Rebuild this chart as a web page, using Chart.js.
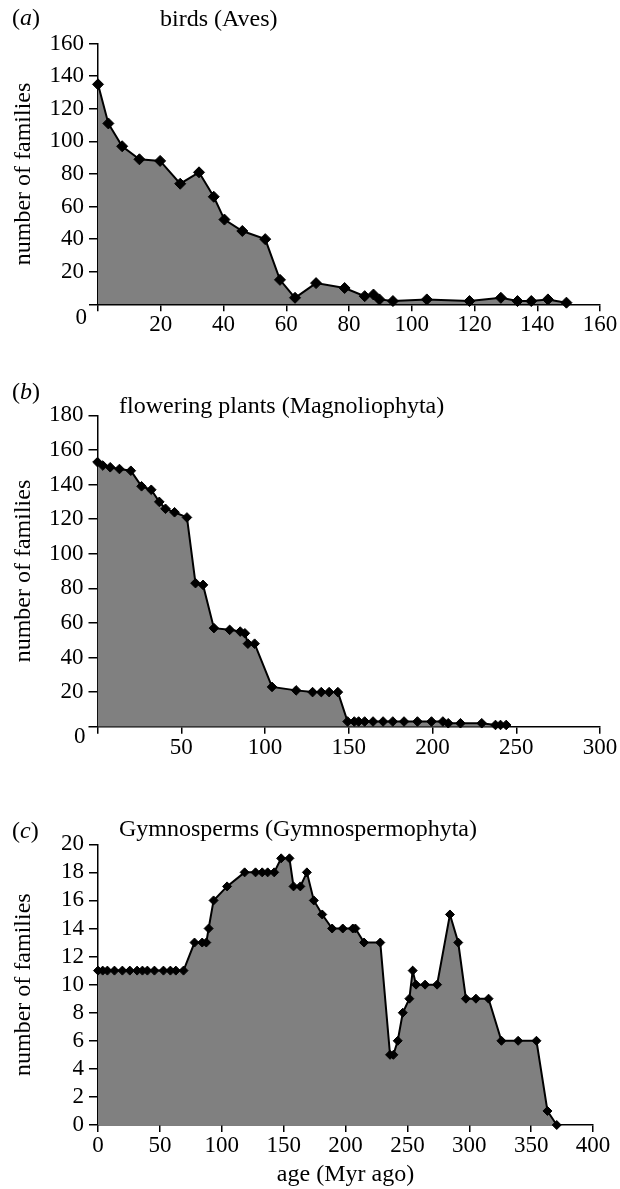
<!DOCTYPE html>
<html>
<head>
<meta charset="utf-8">
<script src="https://cdn.jsdelivr.net/npm/chart.js@4.4.1/dist/chart.umd.min.js"></script>
<style>
  html, body { margin: 0; padding: 0; background: #fff; }
  #page { position: relative; width: 620px; height: 1189px; overflow: hidden; background: #fff;
          font-family: 'Liberation Serif', 'Times New Roman', serif; color: #000; }
  .panel { position: absolute; left: 0; width: 620px; }
  .lbl { position: absolute; font-size: 24px; line-height: 26px; white-space: nowrap; }
</style>
</head>
<body>
<div id="page">
  <div class="panel" style="top:0px;height:345px;"><canvas id="ca"></canvas></div>
  <div class="panel" style="top:360px;height:410px;"><canvas id="cb"></canvas></div>
  <div class="panel" style="top:790px;height:399px;"><canvas id="cc"></canvas></div>

  <div class="lbl" style="left:12px;top:4px;">(<i>a</i>)</div>
  <div class="lbl" style="left:160px;top:5px;">birds (Aves)</div>
  <div class="lbl" style="left:12px;top:378px;">(<i>b</i>)</div>
  <div class="lbl" style="left:119px;top:392px;">flowering plants (Magnoliophyta)</div>
  <div class="lbl" style="left:12px;top:817px;">(<i>c</i>)</div>
  <div class="lbl" style="left:119px;top:815px;">Gymnosperms (Gymnospermophyta)</div>
</div>
<script>
// ---- data ----
const birdAges   = [0, 3.3, 7.7, 13.2, 19.8, 26.2, 32.2, 36.9, 40.3, 46, 53.3, 58, 62.8, 69.5, 78.6, 85, 87.8, 89.7, 94, 104.8, 118.4, 128.4, 133.7, 138.1, 143.4, 149.3];
const birdCounts = [135, 111, 97, 89, 88, 74, 81, 66, 52, 45, 40, 15, 4, 13, 10, 5, 6, 3, 2, 3, 2, 4, 2, 2, 3, 1];

const plantAges   = [0, 3.2, 7.6, 13.1, 19.9, 26.3, 32.1, 36.9, 40.6, 46, 53.4, 58.5, 63, 69.5, 78.9, 85.2, 88, 89.8, 93.8, 104.2, 118.6, 128.4, 133.6, 138.3, 143.5, 149.3, 153.3, 155.9, 159.5, 164.5, 170.5, 176.3, 183, 191, 199.4, 206.2, 209.4, 216.7, 229.4, 237.6, 240.6, 244];
const plantCounts = [153, 151, 150, 149, 148, 139, 137, 130, 126, 124, 121, 83, 82, 57, 56, 55, 54, 48, 48, 23, 21, 20, 20, 20, 20, 3, 3, 3, 3, 3, 3, 3, 3, 3, 3, 3, 2, 2, 2, 1, 1, 1];

const gymAges   = [0, 3.8, 7.6, 13.3, 19.7, 25.7, 31.6, 35.9, 39.9, 45.6, 52.9, 58.5, 62.9, 69.1, 78, 84.2, 87.5, 89.4, 93.4, 104.3, 118.5, 127.3, 132.7, 137.1, 142.4, 148, 154.7, 158, 163.5, 168.8, 174.4, 181.2, 189.2, 197.8, 205.9, 208, 215, 228.1, 236, 238.7, 242.2, 246.3, 251.6, 254.3, 257, 264.3, 274, 284.4, 291.1, 297.3, 305.4, 315.6, 326, 339.5, 354.3, 363.2, 370.7];
const gymCounts = [11, 11, 11, 11, 11, 11, 11, 11, 11, 11, 11, 11, 11, 11, 13, 13, 13, 14, 16, 17, 18, 18, 18, 18, 18, 19, 19, 17, 17, 18, 16, 15, 14, 14, 14, 14, 13, 13, 5, 5, 6, 8, 9, 11, 10, 10, 10, 15, 13, 9, 9, 9, 6, 6, 6, 1, 0];

const panelA = { xMax: 160, xStep: 20, yMax: 160, yStep: 20 };
const panelB = { xMax: 300, xStep: 50, yMax: 180, yStep: 20 };
const panelC = { xMax: 400, xStep: 50, yMax: 20,  yStep: 2 };
const yTitle = 'number of families';
const xTitle = 'age (Myr ago)';

// ---- rendering ----
const FONT = "'Liberation Serif', 'Times New Roman', serif";
Chart.defaults.font.family = FONT;
Chart.defaults.font.size = 23;
Chart.defaults.color = '#000';

const cornerZero = {
  id: 'cornerZero',
  afterDraw(chart, args, opts) {
    if (!opts || !opts.show) return;
    const ctx = chart.ctx;
    ctx.save();
    ctx.font = '23px ' + FONT;
    ctx.fillStyle = '#000';
    ctx.textAlign = 'right';
    ctx.textBaseline = 'middle';
    ctx.fillText('0', chart.chartArea.left - opts.dx, chart.chartArea.bottom + opts.dy);
    ctx.restore();
  }
};

function toPoints(xs, ys) { return xs.map((x, i) => ({ x: x, y: ys[i] })); }

function makeChart(id, xs, ys, cfg) {
  return new Chart(document.getElementById(id), {
    type: 'line',
    data: {
      datasets: [{
        data: toPoints(xs, ys),
        borderColor: '#000',
        borderWidth: 2,
        backgroundColor: '#808080',
        fill: 'origin',
        tension: 0,
        pointStyle: 'rectRot',
        pointRadius: cfg.r,
        pointBackgroundColor: '#000',
        pointBorderColor: '#000',
        pointBorderWidth: 1,
        clip: false
      }]
    },
    options: {
      responsive: true,
      maintainAspectRatio: false,
      animation: false,
      events: [],
      layout: { padding: { top: cfg.padTop, right: cfg.padRight, bottom: 0, left: 0 } },
      plugins: {
        legend: { display: false },
        tooltip: { enabled: false },
        cornerZero: { show: cfg.corner, dx: cfg.cdx, dy: cfg.cdy }
      },
      scales: {
        x: {
          type: 'linear',
          min: 0, max: cfg.p.xMax,
          border: { color: '#000', width: 1.5 },
          grid: { display: true, drawOnChartArea: false, drawTicks: true, tickLength: 7, tickColor: '#000', lineWidth: 1.5 },
          ticks: {
            stepSize: cfg.p.xStep, padding: 0, maxRotation: 0, autoSkip: false, color: '#000',
            callback: (v) => (cfg.corner && v === 0) ? '' : String(v)
          },
          title: { display: cfg.xTitle, text: xTitle, color: '#000', font: { size: 24 }, padding: { top: 0, bottom: 0 } },
          afterFit: (s) => { s.height = cfg.xH; }
        },
        y: {
          type: 'linear',
          min: 0, max: cfg.p.yMax,
          border: { color: '#000', width: 1.5 },
          grid: { display: true, drawOnChartArea: false, drawTicks: true, tickLength: 9, tickColor: '#000', lineWidth: 1.5 },
          ticks: {
            stepSize: cfg.p.yStep, padding: 5, autoSkip: false, color: '#000',
            callback: (v) => (cfg.corner && v === 0) ? '' : String(v)
          },
          title: { display: true, text: yTitle, color: '#000', font: { size: 24 }, padding: { top: 9, bottom: 0 } },
          afterFit: (s) => { s.width = cfg.yW; }
        }
      }
    },
    plugins: [cornerZero]
  });
}

makeChart('ca', birdAges, birdCounts, { p: panelA, r: 5.5, padTop: 43.6, padRight: 20, xH: 40.7, yW: 98, corner: true, cdx: 11, cdy: 14, xTitle: false });
makeChart('cb', plantAges, plantCounts, { p: panelB, r: 4.8, padTop: 55.4, padRight: 20, xH: 43.3, yW: 97.5, corner: true, cdx: 12, cdy: 10, xTitle: false });
makeChart('cc', gymAges, gymCounts, { p: panelC, r: 4.5, padTop: 54.3, padRight: 27, xH: 64, yW: 98, corner: false, cdx: 0, cdy: 0, xTitle: true });
</script>
</body>
</html>
